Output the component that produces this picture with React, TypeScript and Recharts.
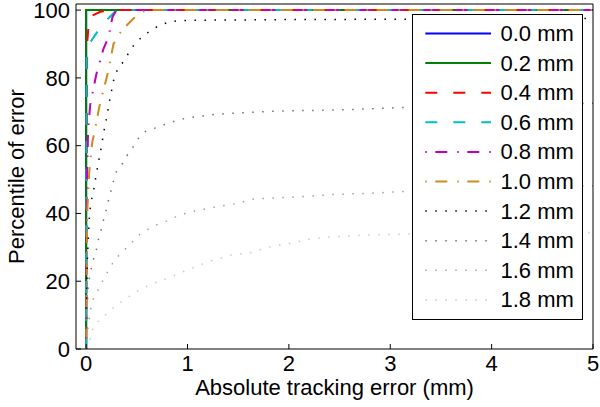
import React from 'react';
import { LineChart, Line, XAxis, YAxis, Legend } from 'recharts';

// Noise levels (legend labels)
const noiseLabels = ['0.0 mm', '0.2 mm', '0.4 mm', '0.6 mm', '0.8 mm', '1.0 mm', '1.2 mm', '1.4 mm', '1.6 mm', '1.8 mm'];

// Axis ticks
const xTicks = [0, 1, 2, 3, 4, 5];
const yTicks = [0, 20, 40, 60, 80, 100];

// Series: absolute tracking error (mm) vs percentile
const err00X = [0, 0, 5];
const err00Y = [0, 100, 100];

const err02X = [0, 0, 5];
const err02Y = [0, 100, 100];

const err04X = [0, 0.01, 0.03, 0.14, 0.25, 5];
const err04Y = [0, 90, 98, 99.5, 100, 100];

const err06X = [0, 0.005, 0.04, 0.12, 0.2, 0.3, 5];
const err06Y = [0, 86, 90.5, 94, 97, 100, 100];

const err08X = [0, 0.008, 0.02, 0.04, 0.1, 0.17, 0.22, 0.26, 0.3, 5];
const err08Y = [0, 50, 65, 72, 81, 88.5, 92, 98, 100, 100];

const err10X = [0, 0.01, 0.03, 0.06, 0.09, 0.13, 0.21, 0.27, 0.35, 0.45, 0.52, 0.6, 5];
const err10Y = [0, 40, 52, 61, 65, 71.5, 81, 90, 94, 97, 99, 100, 100];

const err12X = [0, 0.01, 0.03, 0.04, 0.057, 0.077, 0.094, 0.11, 0.127, 0.146, 0.163, 0.18, 0.2, 0.235, 0.275, 0.31, 0.37, 0.42, 0.48, 0.56, 0.62, 0.71, 0.8, 0.89, 1.01, 1.5, 2, 3, 4, 5];
const err12Y = [0, 25, 38, 41.5, 44.5, 47.4, 50.4, 53.2, 56, 59, 62, 65, 68, 73.9, 79.8, 82.5, 84.9, 87.4, 90.1, 92.3, 93.6, 95.3, 96.3, 96.8, 97, 97.1, 97.2, 97.3, 97.4, 97.5];

const err14X = [0, 0.01, 0.02, 0.045, 0.07, 0.1, 0.12, 0.146, 0.17, 0.196, 0.22, 0.245, 0.27, 0.3, 0.36, 0.41, 0.47, 0.52, 0.59, 0.69, 0.78, 0.87, 0.97, 1.07, 1.26, 1.46, 1.66, 1.86, 2.25, 2.65, 3.07, 4, 5];
const err14Y = [0, 12, 19, 23.2, 26.2, 29.2, 32.2, 34.9, 37.9, 40.8, 43.8, 46.7, 49.6, 52.4, 54.8, 57.4, 59.9, 62.3, 64.3, 65.3, 66.3, 67.2, 68, 68.5, 69.2, 69.6, 69.9, 70.2, 70.4, 70.7, 71.2, 71.8, 72.5];

const err16X = [0, 0.02, 0.04, 0.06, 0.11, 0.15, 0.2, 0.25, 0.31, 0.38, 0.45, 0.52, 0.6, 0.69, 0.78, 0.87, 0.97, 1.07, 1.26, 1.46, 1.66, 1.86, 2.05, 2.45, 2.84, 3.14, 4, 5];
const err16Y = [0, 7, 11, 14.2, 16.9, 19.4, 22.1, 24.8, 27.2, 29.3, 31.4, 33.6, 35.2, 36.6, 37.6, 38.8, 39.9, 40.7, 41.8, 42.8, 44.3, 44.6, 44.8, 45.6, 46, 46.5, 47.5, 48.2];

const err18X = [0, 0.04, 0.077, 0.17, 0.24, 0.32, 0.4, 0.48, 0.57, 0.66, 0.76, 0.85, 0.94, 1.04, 1.23, 1.43, 1.63, 1.82, 2.02, 2.22, 2.42, 2.61, 2.81, 3.14, 4, 5];
const err18Y = [0, 3, 7, 9.5, 11.4, 13.4, 15, 16.7, 18.1, 19.3, 20.4, 21.4, 22.6, 23.8, 26, 27.7, 28.5, 30.2, 31.2, 32.5, 33.1, 33.4, 33.7, 33.9, 34.2, 34.4];

const FONT = '"Liberation Sans", Arial, Helvetica, sans-serif';

const toPoints = (xs: number[], ys: number[]) => xs.map((x, i) => ({ x, y: ys[i] }));

const DASHED = '12 16';
const DASHDOT = '1.5 8.5 12 10';
const DOTTED = '1.5 8.5';

const series = [
  { name: noiseLabels[0], data: toPoints(err00X, err00Y), color: '#0000ff', dash: undefined, width: 2 },
  { name: noiseLabels[1], data: toPoints(err02X, err02Y), color: '#008000', dash: undefined, width: 2 },
  { name: noiseLabels[2], data: toPoints(err04X, err04Y), color: '#ff0000', dash: DASHED, width: 2 },
  { name: noiseLabels[3], data: toPoints(err06X, err06Y), color: '#00bfbf', dash: DASHED, width: 2 },
  { name: noiseLabels[4], data: toPoints(err08X, err08Y), color: '#bf00bf', dash: DASHDOT, width: 2 },
  { name: noiseLabels[5], data: toPoints(err10X, err10Y), color: '#cc8b22', dash: DASHDOT, width: 2 },
  { name: noiseLabels[6], data: toPoints(err12X, err12Y), color: '#000000', dash: DOTTED, width: 1.5 },
  { name: noiseLabels[7], data: toPoints(err14X, err14Y), color: '#6e6e6e', dash: DOTTED, width: 1.5 },
  { name: noiseLabels[8], data: toPoints(err16X, err16Y), color: '#a0a0a0', dash: DOTTED, width: 1.5 },
  { name: noiseLabels[9], data: toPoints(err18X, err18Y), color: '#c8c8c8', dash: DOTTED, width: 1.5 },
];

const LegendBox = () => {
  const w = 171;
  const h = 306;
  return (
    <svg width={w} height={h} style={{ display: 'block' }}>
      <rect x={0.5} y={0.5} width={w - 1} height={h - 1} fill="#fff" stroke="#000" strokeWidth={1} />
      {series.map((s, i) => {
        const cy = 19.5 + i * 29.6;
        return (
          <g key={s.name}>
            <line x1={13.3} x2={79} y1={cy} y2={cy} stroke={s.color} strokeWidth={s.width} strokeDasharray={s.dash} />
            <text x={88.5} y={cy} dominantBaseline="central" fontSize={22} fontFamily={FONT} fill="#000">
              {s.name}
            </text>
          </g>
        );
      })}
    </svg>
  );
};

export default function App() {
  return (
    <div style={{ position: 'absolute', left: 0, top: 0 }}>
      <LineChart
        width={600}
        height={407}
        margin={{ top: 3, right: 6, bottom: 0, left: 0 }}
        style={{ fontFamily: FONT, background: '#fff' }}
      >
        <XAxis
          dataKey="x"
          type="number"
          domain={[-0.1, 5]}
          ticks={xTicks}
          interval={0}
          height={58}
          tickSize={-5}
          tickMargin={11}
          axisLine={{ stroke: '#000' }}
          tickLine={{ stroke: '#000' }}
          tick={{ fontSize: 22, fill: '#000', fontFamily: FONT }}
          allowDataOverflow
          label={{
            content: (p: any) => {
              const vb = p.viewBox;
              return (
                <text x={vb.x + vb.width / 2} y={vb.y + 46} textAnchor="middle" fontSize={22} fontFamily={FONT} fill="#000">
                  Absolute tracking error (mm)
                </text>
              );
            },
          }}
        />
        <XAxis
          xAxisId="top"
          orientation="top"
          dataKey="x"
          type="number"
          domain={[-0.1, 5]}
          ticks={xTicks}
          interval={0}
          height={1}
          tickSize={-5}
          tick={false}
          axisLine={{ stroke: '#000' }}
          tickLine={{ stroke: '#000' }}
        />
        <YAxis
          type="number"
          domain={[0, 101.8]}
          ticks={yTicks}
          interval={0}
          width={76}
          tickSize={-5}
          tickMargin={11}
          axisLine={{ stroke: '#000' }}
          tickLine={{ stroke: '#000' }}
          tick={{ fontSize: 22, fill: '#000', fontFamily: FONT }}
          allowDataOverflow
          label={{
            content: (p: any) => {
              const vb = p.viewBox;
              const cx = 24;
              const cy = vb.y + vb.height / 2;
              return (
                <text x={cx} y={cy} transform={`rotate(-90 ${cx} ${cy})`} textAnchor="middle" fontSize={22} fontFamily={FONT} fill="#000">
                  Percentile of error
                </text>
              );
            },
          }}
        />
        <YAxis
          yAxisId="right"
          orientation="right"
          type="number"
          domain={[0, 101.8]}
          ticks={yTicks}
          interval={0}
          width={1}
          tickSize={-5}
          tick={false}
          axisLine={{ stroke: '#000' }}
          tickLine={{ stroke: '#000' }}
        />
        {series.map((s) => (
          <Line
            key={s.name}
            data={s.data}
            dataKey="y"
            name={s.name}
            type="linear"
            stroke={s.color}
            strokeWidth={s.width}
            strokeDasharray={s.dash}
            dot={false}
            activeDot={false}
            isAnimationActive={false}
          />
        ))}
        <Legend
          layout="vertical"
          align="center"
          verticalAlign="middle"
          content={() => <LegendBox />}
          wrapperStyle={{ position: 'absolute', left: 411.7, top: 14, width: 171, height: 306 }}
        />
      </LineChart>
    </div>
  );
}
